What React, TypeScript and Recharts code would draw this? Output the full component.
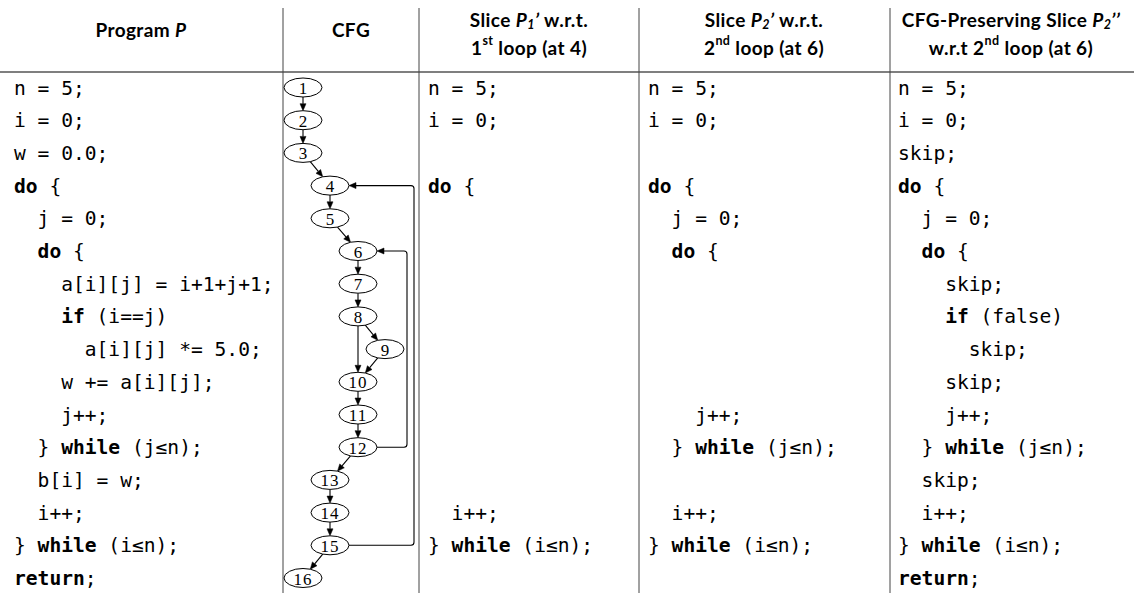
import React from "react";
import { ComposedChart, ReferenceLine, Scatter, XAxis, YAxis } from "recharts";

// table content, one array per column (one entry per CFG row)
const programLines = [
  "n = 5;",
  "i = 0;",
  "w = 0.0;",
  "do {",
  "  j = 0;",
  "  do {",
  "    a[i][j] = i+1+j+1;",
  "    if (i==j)",
  "      a[i][j] *= 5.0;",
  "    w += a[i][j];",
  "    j++;",
  "  } while (j≤n);",
  "  b[i] = w;",
  "  i++;",
  "} while (i≤n);",
  "return;",
];

const slice1Lines = ["n = 5;", "i = 0;", "", "do {", "", "", "", "", "", "", "", "", "", "  i++;", "} while (i≤n);", ""];

const slice2Lines = [
  "n = 5;",
  "i = 0;",
  "",
  "do {",
  "  j = 0;",
  "  do {",
  "",
  "",
  "",
  "",
  "    j++;",
  "  } while (j≤n);",
  "",
  "  i++;",
  "} while (i≤n);",
  "",
];

const preservingLines = [
  "n = 5;",
  "i = 0;",
  "skip;",
  "do {",
  "  j = 0;",
  "  do {",
  "    skip;",
  "    if (false)",
  "      skip;",
  "    skip;",
  "    j++;",
  "  } while (j≤n);",
  "  skip;",
  "  i++;",
  "} while (i≤n);",
  "return;",
];

const keywords = ["do", "if", "while", "return"];

type Seg = { t: string; it?: boolean; sub?: boolean; sup?: boolean };

const headerProgram: Seg[][] = [[{ t: "Program " }, { t: "P", it: true }]];
const headerCfg: Seg[][] = [[{ t: "CFG" }]];
const headerSlice1: Seg[][] = [
  [{ t: "Slice " }, { t: "P", it: true }, { t: "1", it: true, sub: true }, { t: "’", it: true }, { t: " w.r.t." }],
  [{ t: "1" }, { t: "st", sup: true }, { t: " loop (at 4)" }],
];
const headerSlice2: Seg[][] = [
  [{ t: "Slice " }, { t: "P", it: true }, { t: "2", it: true, sub: true }, { t: "’", it: true }, { t: " w.r.t." }],
  [{ t: "2" }, { t: "nd", sup: true }, { t: " loop (at 6)" }],
];
const headerPreserving: Seg[][] = [
  [{ t: "CFG-Preserving Slice " }, { t: "P", it: true }, { t: "2", it: true, sub: true }, { t: "’’", it: true }],
  [{ t: "w.r.t 2" }, { t: "nd", sup: true }, { t: " loop (at 6)" }],
];

// CFG: node label, row of the statement, lane (indent level in the graph)
const cfgNodes = [
  { id: 1, row: 0, lane: 0 },
  { id: 2, row: 1, lane: 0 },
  { id: 3, row: 2, lane: 0 },
  { id: 4, row: 3, lane: 1 },
  { id: 5, row: 4, lane: 1 },
  { id: 6, row: 5, lane: 2 },
  { id: 7, row: 6, lane: 2 },
  { id: 8, row: 7, lane: 2 },
  { id: 9, row: 8, lane: 3 },
  { id: 10, row: 9, lane: 2 },
  { id: 11, row: 10, lane: 2 },
  { id: 12, row: 11, lane: 2 },
  { id: 13, row: 12, lane: 1 },
  { id: 14, row: 13, lane: 1 },
  { id: 15, row: 14, lane: 1 },
  { id: 16, row: 15, lane: 0 },
];

const forwardEdges: [number, number][] = [
  [1, 2], [2, 3], [3, 4], [4, 5], [5, 6], [6, 7], [7, 8], [8, 9],
  [8, 10], [9, 10], [10, 11], [11, 12], [12, 13], [13, 14], [14, 15], [15, 16],
];
const backEdges: [number, number][] = [
  [12, 6],
  [15, 4],
];

// layout (chart units == pixels)
const W = 1134;
const H = 593;
const RULE_Y = 72;
const BORDER_TOP = 8;
const ROW0_Y = 87.5;
const ROW_STEP = 32.7;
const borders = [283, 419, 639, 890];
const headerX = [141, 351, 529, 764, 1011];
const textX = [14, 428, 648, 898];
const laneX = [303, 330, 358, 385];
const loopX = [407, 414];
const RX = 19;
const RY = 9.5;
const HEAD_SIZE = 19;
const HEAD_SMALL = 12.5;

const MONO = "'DejaVu Sans Mono', 'Liberation Mono', monospace";
const SANS = "Lato, 'Open Sans', sans-serif";
const SERIF = "'Liberation Serif', 'DejaVu Serif', serif";

const rowY = (r: number) => ROW0_Y + r * ROW_STEP;

const codeData = [programLines, slice1Lines, slice2Lines, preservingLines].flatMap((lines, c) =>
  lines.map((text, r) => ({ x: textX[c], y: rowY(r), text })).filter((d) => d.text !== "")
);

const headerData = [headerProgram, headerCfg, headerSlice1, headerSlice2, headerPreserving].map((lines, c) => ({
  x: headerX[c],
  y: lines.length === 1 ? 29 : 18.5,
  lines,
}));

const nodePos = (id: number) => {
  const n = cfgNodes.find((d) => d.id === id)!;
  return { x: laneX[n.lane], y: rowY(n.row) };
};

const nodeData = cfgNodes.map((n) => ({ ...nodePos(n.id), label: String(n.id) }));

const onEllipse = (a: { x: number; y: number }, b: { x: number; y: number }) => {
  const dx = b.x - a.x;
  const dy = b.y - a.y;
  const t = 1 / Math.sqrt((dx / RX) ** 2 + (dy / RY) ** 2);
  return { x: a.x + dx * t, y: a.y + dy * t };
};

const edgeData = [
  ...forwardEdges.map(([f, t]) => {
    const a = nodePos(f);
    const b = nodePos(t);
    return [onEllipse(a, b), onEllipse(b, a)];
  }),
  ...backEdges.map(([f, t], i) => {
    const a = nodePos(f);
    const b = nodePos(t);
    return [
      { x: a.x + RX, y: a.y },
      { x: loopX[i], y: a.y },
      { x: loopX[i], y: b.y },
      { x: b.x + RX, y: b.y },
    ];
  }),
];

function CodeLine(props: any) {
  const { cx, cy, payload } = props;
  const parts = payload.text.split(new RegExp(`\\b(${keywords.join("|")})\\b`));
  return (
    <text
      x={cx}
      y={cy}
      dominantBaseline="central"
      fontFamily={MONO}
      fontSize={19.6}
      fill="#000"
      xmlSpace="preserve"
      style={{ whiteSpace: "pre" }}
    >
      {parts.map((p: string, i: number) => (
        <tspan key={i} fontWeight={keywords.includes(p) ? 700 : 400}>
          {p}
        </tspan>
      ))}
    </text>
  );
}

function HeaderCell(props: any) {
  const { cx, cy, payload } = props;
  return (
    <g>
      {payload.lines.map((segs: Seg[], li: number) => {
        let shift = 0;
        return (
          <text
            key={li}
            x={cx}
            y={cy + li * 28}
            textAnchor="middle"
            dominantBaseline="central"
            fontFamily={SANS}
            fontWeight={700}
            fontSize={HEAD_SIZE}
            letterSpacing={0.4}
            fill="#000"
            xmlSpace="preserve"
            style={{ whiteSpace: "pre" }}
          >
            {segs.map((s, si) => {
              const target = s.sub ? 5 : s.sup ? -7 : 0;
              const dy = target - shift;
              shift = target;
              return (
                <tspan
                  key={si}
                  dy={dy}
                  fontStyle={s.it ? "italic" : "normal"}
                  fontSize={s.sub || s.sup ? HEAD_SMALL : HEAD_SIZE}
                >
                  {s.t}
                </tspan>
              );
            })}
          </text>
        );
      })}
    </g>
  );
}

function CfgNode(props: any) {
  const { cx, cy, payload } = props;
  return (
    <g>
      <ellipse cx={cx} cy={cy} rx={RX} ry={RY} fill="#fff" stroke="#000" strokeWidth={1} />
      <text
        x={cx}
        y={cy + 1}
        textAnchor="middle"
        dominantBaseline="central"
        fontFamily={SERIF}
        fontSize={17}
        letterSpacing={payload.label.length > 1 ? 1 : 0}
        fill="#000"
      >
        {payload.label}
      </text>
    </g>
  );
}

function EdgePath(props: any) {
  const pts: { x: number; y: number }[] = props.points;
  if (!pts || pts.length < 2) return <g />;
  const r = 3;
  let d = `M${pts[0].x},${pts[0].y}`;
  for (let i = 1; i < pts.length - 1; i++) {
    const p = pts[i];
    const prev = pts[i - 1];
    const next = pts[i + 1];
    const l1 = Math.hypot(p.x - prev.x, p.y - prev.y);
    const l2 = Math.hypot(next.x - p.x, next.y - p.y);
    const a = { x: p.x - ((p.x - prev.x) / l1) * r, y: p.y - ((p.y - prev.y) / l1) * r };
    const b = { x: p.x + ((next.x - p.x) / l2) * r, y: p.y + ((next.y - p.y) / l2) * r };
    d += ` L${a.x},${a.y} Q${p.x},${p.y} ${b.x},${b.y}`;
  }
  const end = pts[pts.length - 1];
  const before = pts[pts.length - 2];
  const len = Math.hypot(end.x - before.x, end.y - before.y);
  const ux = (end.x - before.x) / len;
  const uy = (end.y - before.y) / len;
  const ah = 7;
  const aw = 3;
  const base = { x: end.x - ux * ah, y: end.y - uy * ah };
  d += ` L${base.x},${base.y}`;
  const head = `M${end.x},${end.y} L${base.x - uy * aw},${base.y + ux * aw} L${base.x + uy * aw},${base.y - ux * aw} Z`;
  return (
    <g>
      <path d={d} fill="none" stroke="#000" strokeWidth={1.1} />
      <path d={head} fill="#000" stroke="#000" strokeWidth={0.5} />
    </g>
  );
}

export default function App() {
  return (
    <div style={{ position: "absolute", left: 0, top: 0, width: W, height: H, background: "#fff" }}>
      <ComposedChart width={W} height={H} margin={{ top: 0, right: 0, bottom: 0, left: 0 }}>
        <XAxis type="number" dataKey="x" domain={[0, W]} hide allowDataOverflow />
        <YAxis type="number" dataKey="y" domain={[0, H]} reversed hide allowDataOverflow />
        <ReferenceLine
          segment={[
            { x: 0, y: RULE_Y },
            { x: W, y: RULE_Y },
          ]}
          stroke="#000"
          strokeWidth={1.2}
          ifOverflow="visible"
        />
        {borders.map((bx) => (
          <ReferenceLine
            key={bx}
            segment={[
              { x: bx, y: BORDER_TOP },
              { x: bx, y: H },
            ]}
            stroke="#444"
            strokeWidth={1}
            ifOverflow="visible"
          />
        ))}
        {edgeData.map((pts, i) => (
          <Scatter
            key={`edge-${i}`}
            data={pts}
            line={EdgePath}
            shape={() => <g />}
            isAnimationActive={false}
          />
        ))}
        <Scatter data={nodeData} shape={CfgNode} isAnimationActive={false} />
        <Scatter data={codeData} shape={CodeLine} isAnimationActive={false} />
        <Scatter data={headerData} shape={HeaderCell} isAnimationActive={false} />
      </ComposedChart>
    </div>
  );
}
